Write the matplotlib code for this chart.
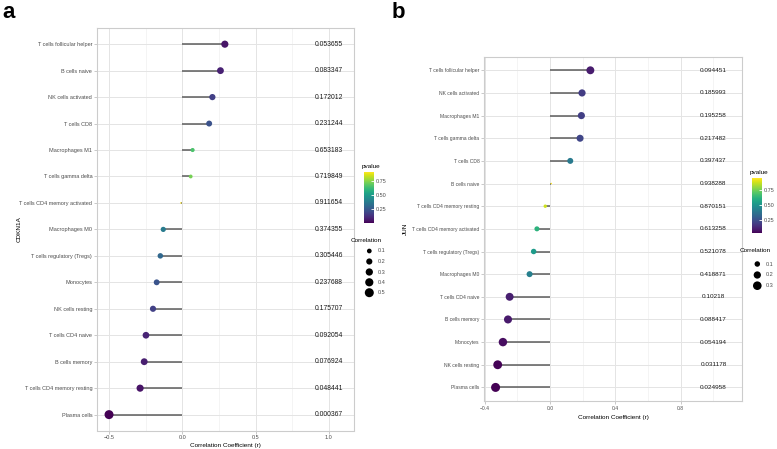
import matplotlib
matplotlib.use("Agg")
import matplotlib.pyplot as plt
import matplotlib.colors as mcolors
import matplotlib.colorbar as mcolorbar
import numpy as np

plt.rcParams["font.family"] = ["Liberation Sans", "DejaVu Sans"]

# panel a: CDKN1A
cells_a = ["T cells follicular helper", "B cells naive", "NK cells activated", "T cells CD8",
           "Macrophages M1", "T cells gamma delta", "T cells CD4 memory activated",
           "Macrophages M0", "T cells regulatory (Tregs)", "Monocytes", "NK cells resting",
           "T cells CD4 naive", "B cells memory", "T cells CD4 memory resting", "Plasma cells"]
cor_a = [0.29, 0.26, 0.205, 0.183, 0.07, 0.057, -0.01, -0.13, -0.15, -0.175, -0.2,
         -0.248, -0.26, -0.288, -0.5]
p_a = [0.053655, 0.083347, 0.172012, 0.231244, 0.653183, 0.719849, 0.911654, 0.374355,
       0.305446, 0.237688, 0.175707, 0.092054, 0.076924, 0.048441, 0.000367]
size_ticks_a = [0.1, 0.2, 0.3, 0.4, 0.5]

# panel b: JUN
cells_b = ["T cells follicular helper", "NK cells activated", "Macrophages M1",
           "T cells gamma delta", "T cells CD8", "B cells naive", "T cells CD4 memory resting",
           "T cells CD4 memory activated", "T cells regulatory (Tregs)", "Macrophages M0",
           "T cells CD4 naive", "B cells memory", "Monocytes", "NK cells resting", "Plasma cells"]
cor_b = [0.247, 0.196, 0.192, 0.184, 0.124, 0.008, -0.029, -0.08, -0.1, -0.125,
         -0.247, -0.257, -0.288, -0.32, -0.333]
p_b = [0.094451, 0.185993, 0.195258, 0.217482, 0.397437, 0.938288, 0.870151, 0.613258,
       0.521078, 0.418871, 0.10218, 0.088417, 0.054194, 0.031178, 0.024958]
size_ticks_b = [0.1, 0.2, 0.3]

W, H = 777, 449
fig = plt.figure(figsize=(W / 100, H / 100), dpi=100)


def px_axes(x0, y0, x1, y1):
    return fig.add_axes([x0 / W, 1 - y1 / H, (x1 - x0) / W, (y1 - y0) / H])


def diam(a, amin, amax):
    # ggplot-like area scale, diameter in points
    t = np.clip((np.asarray(a) - amin) / (amax - amin), 0, 1)
    return (1 + 5 * np.sqrt(t)) * 1.5 * 0.72


def panel(box, cells, cor, p, gene, xlim, major, minor, cb_box, title_xy, size_ticks,
          corr_title_xy, leg_x, leg_y, ylab_x, xlab_y, tick_fs, p_fs):
    ax = px_axes(*box)
    n = len(cells)
    y = np.arange(n)[::-1]
    cor = np.array(cor)
    a = np.abs(cor)
    amin, amax = a.min(), a.max()
    norm = mcolors.Normalize(min(p), max(p))
    cmap = plt.get_cmap("viridis")

    ax.set_xlim(*xlim)
    ax.set_ylim(-0.6, n - 0.4)
    for v in minor:
        ax.axvline(v, color="#f0f0f0", lw=0.5, zorder=0)
    for v in major:
        ax.axvline(v, color="#e4e4e4", lw=0.7, zorder=0)
    for yy in y:
        ax.axhline(yy, color="#e4e4e4", lw=0.7, zorder=0)

    ax.hlines(y, 0, cor, color="#5c5c5c", lw=1.1, zorder=2)
    ax.scatter(cor, y, s=diam(a, amin, amax) ** 2, c=cmap(norm(p)), linewidths=0, zorder=3)
    for yy, pv in zip(y, p):
        ax.text(1.0, yy, f"{pv:.6f}".rstrip("0"), ha="center", va="center",
                fontsize=p_fs, color="#1a1a1a", zorder=4)

    ax.set_xticks(major)
    ax.set_xticklabels([f"{v:.1f}".replace("-", "\u2212") for v in major])
    ax.set_yticks(y)
    ax.set_yticklabels(cells)
    ax.tick_params(labelsize=tick_fs, colors="#b3b3b3", labelcolor="#4d4d4d", length=2,
                   width=0.5, pad=1.5)
    for s in ax.spines.values():
        s.set_color("#cccccc")
        s.set_linewidth(0.8)
    x0, y0, x1, y1 = box
    ax.set_xlabel("Correlation Coefficient (r)", fontsize=4.6)
    ax.xaxis.set_label_coords(0.5, (y1 - xlab_y) / (y1 - y0))
    ax.xaxis.label.set_va("center")
    ax.set_ylabel(gene, fontsize=4.6)
    ax.yaxis.set_label_coords((ylab_x - x0) / (x1 - x0), 0.5)
    ax.yaxis.label.set_va("center")

    # pvalue colorbar
    cax = px_axes(*cb_box)
    cb = mcolorbar.ColorbarBase(cax, cmap=cmap, norm=norm, ticks=[0.25, 0.5, 0.75])
    cb.outline.set_visible(False)
    cb.ax.tick_params(labelsize=4.0, labelcolor="#4d4d4d", color="white", length=2.5,
                      width=0.6, direction="in", pad=1.5)
    cb.ax.set_yticklabels(["0.25", "0.50", "0.75"])
    fig.text(title_xy[0] / W, 1 - title_xy[1] / H, "pvalue", fontsize=4.6,
             ha="left", va="center")

    # size legend
    fig.text(corr_title_xy[0] / W, 1 - corr_title_xy[1] / H, "Correlation", fontsize=4.6,
             ha="left", va="center")
    lax = px_axes(leg_x - 10, leg_y[0] - 5, leg_x + 20, leg_y[-1] + 5)
    lax.set_xlim(leg_x - 10, leg_x + 20)
    lax.set_ylim(leg_y[-1] + 5, leg_y[0] - 5)
    lax.axis("off")
    lax.scatter([leg_x] * len(size_ticks), leg_y, s=diam(size_ticks, amin, amax) ** 2,
                c="black", linewidths=0)
    for v, yy in zip(size_ticks, leg_y):
        lax.text(leg_x + 8.5, yy, f"{v:.1f}", fontsize=4.0, color="#4d4d4d",
                 ha="left", va="center")
    return ax


panel((97, 28.3, 354, 430.5), cells_a, cor_a, p_a, "CDKN1A", (-0.582, 1.171),
      [-0.5, 0.0, 0.5, 1.0], [-0.25, 0.25, 0.75], (364, 171.7, 374, 223.3), (362, 166.5),
      size_ticks_a, (351, 240), 369.3, [251, 261.5, 272, 282.3, 292.7], 19, 445.5, 4.0, 4.9)

panel((484.3, 56.7, 741.7, 401), cells_b, cor_b, p_b, "JUN", (-0.402, 1.173),
      [-0.4, 0.0, 0.4, 0.8], [-0.2, 0.2, 0.6, 1.0], (752, 178.3, 762, 233.3), (750, 172.3),
      size_ticks_b, (739.7, 250.7), 757.3, [264, 275, 285.7], 405, 417, 3.65, 4.6)

fig.text(2 / W, 1 - 12 / H, "a", fontsize=16, fontweight="bold", va="center", ha="left")
fig.text(392 / W, 1 - 13 / H, "b", fontsize=16, fontweight="bold", va="center", ha="left")

fig.savefig("out.png", dpi=100)
